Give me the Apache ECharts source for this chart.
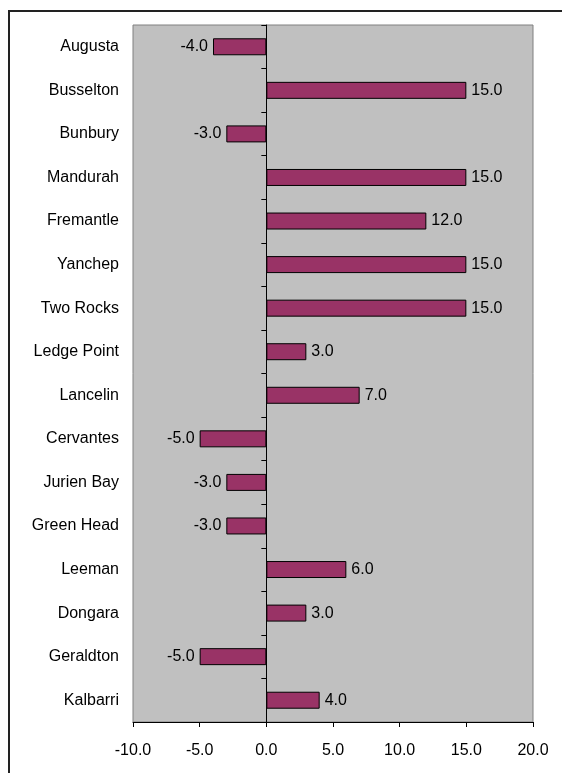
<!DOCTYPE html>
<html>
<head>
<meta charset="utf-8">
<script src="https://cdn.jsdelivr.net/npm/echarts@6/dist/echarts.min.js"></script>
<style>
  html, body { margin: 0; padding: 0; background: #fff; }
  #chart { width: 562px; height: 773px; }
</style>
</head>
<body>
<div id="chart"></div>
<script>
// Towns, listed top to bottom
const towns = ['Augusta', 'Busselton', 'Bunbury', 'Mandurah', 'Fremantle', 'Yanchep',
  'Two Rocks', 'Ledge Point', 'Lancelin', 'Cervantes', 'Jurien Bay', 'Green Head',
  'Leeman', 'Dongara', 'Geraldton', 'Kalbarri'];
// Change value for each town
const changes = [-4, 15, -3, 15, 12, 15, 15, 3, 7, -5, -3, -3, 6, 3, -5, 4];
// Value axis range and step
const axisMin = -10;
const axisMax = 20;
const axisStep = 5;

const FONT = '"Liberation Sans", Arial, sans-serif';
const FONT_SIZE = 16;

const chart = echarts.init(document.getElementById('chart'), null, { renderer: 'canvas' });

const barData = changes.map(v => ({
  value: v,
  label: { position: v < 0 ? 'left' : 'right' }
}));

chart.setOption({
  animation: false,
  backgroundColor: '#ffffff',
  graphic: [{
    type: 'rect',
    shape: { x: 9, y: 11, width: 600, height: 800 },
    style: { fill: 'none', stroke: '#222', lineWidth: 2 },
    silent: true
  }],
  grid: {
    left: 133, top: 25, width: 400, height: 697,
    show: true,
    backgroundColor: '#C0C0C0',
    borderColor: '#808080',
    borderWidth: 1
  },
  xAxis: {
    type: 'value',
    min: axisMin, max: axisMax, interval: axisStep,
    axisLine: { show: true, onZero: false, lineStyle: { color: '#000', width: 1 } },
    axisTick: { show: true, length: 5, lineStyle: { color: '#000' } },
    splitLine: { show: false },
    axisLabel: {
      margin: 21,
      fontFamily: FONT, fontSize: FONT_SIZE, color: '#000',
      formatter: v => v.toFixed(1)
    }
  },
  yAxis: [{
    // town names along the left edge of the plot
    type: 'category',
    data: towns,
    inverse: true,
    position: 'left',
    axisLine: { show: false, onZero: false },
    axisTick: { show: false },
    axisLabel: { margin: 14, fontFamily: FONT, fontSize: FONT_SIZE, color: '#000' }
  }, {
    // zero line with its category ticks
    type: 'category',
    data: towns,
    inverse: true,
    position: 'left',
    axisLine: { show: true, onZero: true, onZeroAxisIndex: 0, lineStyle: { color: '#000', width: 1 } },
    axisTick: { show: true, length: 5, lineStyle: { color: '#000' } },
    axisLabel: { show: false },
    splitLine: { show: false }
  }],
  series: [{
    type: 'bar',
    yAxisIndex: 0,
    data: barData,
    barCategoryGap: '61%',
    itemStyle: { color: '#993366', borderColor: '#000', borderWidth: 1 },
    label: {
      show: true,
      distance: 5,
      fontFamily: FONT, fontSize: FONT_SIZE, color: '#000',
      formatter: p => p.value.toFixed(1)
    }
  }]
});
</script>
</body>
</html>
